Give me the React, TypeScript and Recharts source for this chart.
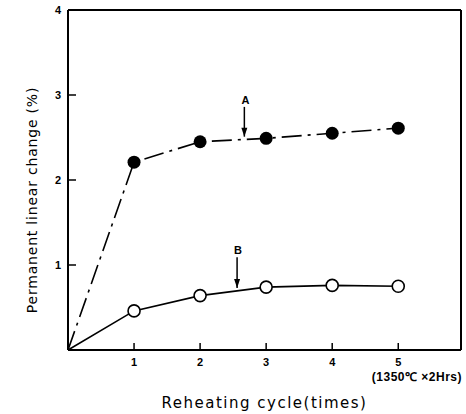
import { LineChart, Line, XAxis, YAxis, ReferenceLine, ReferenceDot } from "recharts"

const cycles = [0, 1, 2, 3, 4, 5]
const seriesA = [0, 2.21, 2.45, 2.49, 2.55, 2.61]
const seriesB = [0, 0.46, 0.64, 0.74, 0.76, 0.75]
const xTicks = [1, 2, 3, 4, 5]
const yTicks = [1, 2, 3, 4]
const xMax = 5.95
const yMax = 4

// arrow annotations: label, x, top of shaft, tip
const arrows = [
  { name: "A", x: 2.67, from: 2.86, to: 2.51 },
  { name: "B", x: 2.56, from: 1.09, to: 0.73 },
]

// plot frame as four segments in data units
const frame = [
  [{ x: 0, y: 0 }, { x: xMax, y: 0 }],
  [{ x: 0, y: yMax }, { x: xMax, y: yMax }],
  [{ x: 0, y: 0 }, { x: 0, y: yMax }],
  [{ x: xMax, y: 0 }, { x: xMax, y: yMax }],
]

const data = cycles.map((c, i) => ({ cycle: c, a: seriesA[i], b: seriesB[i] }))

const FONT = "'Liberation Sans', Arial, sans-serif"
const TITLE_FONT = "'DejaVu Sans', sans-serif"

function YTick({ x, y, payload }: any) {
  return (
    <g>
      {payload.value < 4 && <line x1={x} x2={x + 8} y1={y} y2={y} stroke="#000" strokeWidth={1.5} />}
      <text x={x - 10} y={y} dy={4} textAnchor="middle" fontWeight="bold" fontSize={11} fontFamily={FONT} fill="#000">
        {payload.value}
      </text>
    </g>
  )
}

function XTick({ x, y, payload }: any) {
  return (
    <g>
      <line x1={x} x2={x} y1={y} y2={y - 7} stroke="#000" strokeWidth={1.5} />
      <text x={x} y={y + 16} textAnchor="middle" fontWeight="bold" fontSize={11} fontFamily={FONT} fill="#000">
        {payload.value}
      </text>
    </g>
  )
}

function YTitle({ viewBox }: any) {
  const cx = viewBox.x + 32
  const cy = viewBox.y + viewBox.height / 2 + 20
  return (
    <text
      x={cx}
      y={cy}
      transform={`rotate(-90 ${cx} ${cy})`}
      textAnchor="middle"
      dominantBaseline="central"
      fontSize={14}
      letterSpacing={0.8}
      fontFamily={TITLE_FONT}
      fill="#000"
    >
      Permanent linear change (%)
    </text>
  )
}

function XTitle({ viewBox }: any) {
  const cx = viewBox.x + viewBox.width / 2
  return (
    <g fill="#000">
      <text x={viewBox.x + viewBox.width + 1} y={viewBox.y + 31} textAnchor="end" fontSize={12} letterSpacing={0.5} fontFamily={FONT} fontWeight="bold">
        (1350℃ ×2Hrs)
      </text>
      <text x={cx} y={viewBox.y + 58} textAnchor="middle" fontSize={15} letterSpacing={1.5} fontFamily={TITLE_FONT}>
        Reheating cycle(times)
      </text>
    </g>
  )
}

function ArrowHead({ cx, cy }: any) {
  return <polygon points={`${cx - 3},${cy - 9} ${cx + 3},${cy - 9} ${cx},${cy}`} fill="#000" />
}

function ArrowLabel(name: string) {
  return ({ cx, cy }: any) => (
    <text x={cx + 1} y={cy - 3} textAnchor="middle" fontWeight="bold" fontSize={11} fontFamily={FONT} fill="#000">
      {name}
    </text>
  )
}

export default function App() {
  return (
    <div style={{ position: "absolute", left: 0, top: 0, width: 466, height: 414, background: "#fff" }}>
      <LineChart width={466} height={414} data={data} margin={{ top: 10, right: 5, left: 0, bottom: 0 }}>
        <XAxis
          dataKey="cycle"
          type="number"
          domain={[0, xMax]}
          ticks={xTicks}
          tick={<XTick />}
          tickLine={false}
          tickSize={0}
          tickMargin={0}
          height={64}
          stroke="#000"
          strokeWidth={2}
          label={<XTitle />}
        />
        <YAxis
          type="number"
          domain={[0, yMax]}
          ticks={yTicks}
          tick={<YTick />}
          tickLine={false}
          tickSize={0}
          tickMargin={0}
          width={68}
          stroke="#000"
          strokeWidth={2}
          label={<YTitle />}
        />
        {frame.map((seg, i) => (
          <ReferenceLine key={`f${i}`} segment={seg} stroke="#000" strokeWidth={2} />
        ))}
        <Line
          dataKey="a"
          stroke="#000"
          strokeWidth={1.6}
          strokeDasharray="20 6 3 6"
          isAnimationActive={false}
          dot={({ cx, cy, index }: any) => (index === 0 ? <g key={index} /> : <circle key={index} cx={cx} cy={cy} r={6.5} fill="#000" />)}
        />
        <Line
          dataKey="b"
          stroke="#000"
          strokeWidth={1.6}
          isAnimationActive={false}
          dot={({ cx, cy, index }: any) =>
            index === 0 ? <g key={index} /> : <circle key={index} cx={cx} cy={cy} r={6} fill="#fff" stroke="#000" strokeWidth={1.6} />
          }
        />
        {arrows.map((a) => (
          <ReferenceLine
            key={`s${a.name}`}
            segment={[{ x: a.x, y: a.from }, { x: a.x, y: a.to }]}
            stroke="#000"
            strokeWidth={1.5}
          />
        ))}
        {arrows.map((a) => (
          <ReferenceDot key={`h${a.name}`} x={a.x} y={a.to} r={0} shape={<ArrowHead />} />
        ))}
        {arrows.map((a) => (
          <ReferenceDot key={`l${a.name}`} x={a.x} y={a.from} r={0} shape={ArrowLabel(a.name)} />
        ))}
      </LineChart>
    </div>
  )
}
